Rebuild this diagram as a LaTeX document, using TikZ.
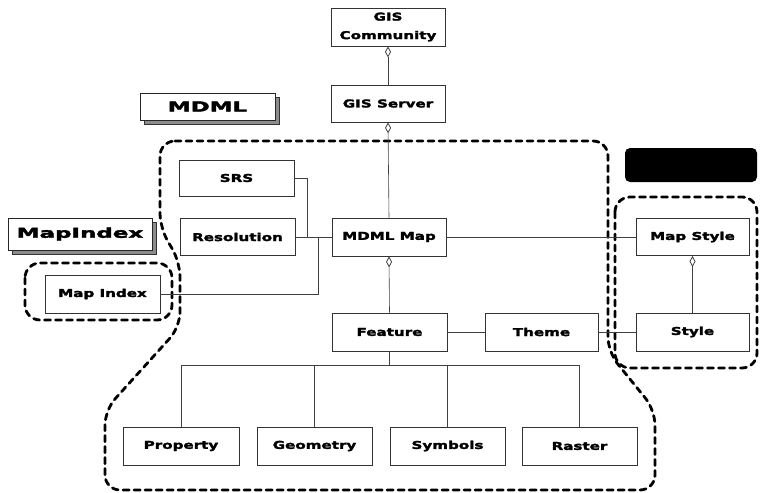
\documentclass[tikz,border=0pt]{standalone}
\usepackage{fontspec}
\usetikzlibrary{arrows.meta}
\newfontfamily\boxfont{DejaVu Sans}[FakeStretch=1.4, FakeBold=2.5]
\newfontfamily\lblfont{DejaVu Sans}[FakeStretch=1.7, FakeBold=3]
\begin{document}
\begin{tikzpicture}[x=1pt,y=-1pt,
  box/.style={draw=black!80, line width=0.8pt, fill=white, inner sep=0pt,
    minimum width=114pt, minimum height=37pt,
    font=\boxfont\fontsize{10.8}{18.5}\selectfont\bfseries, align=center},
  lbl/.style={draw=black!85, line width=0.8pt, fill=white, inner sep=0pt,
    font=\lblfont\fontsize{13.5}{15}\selectfont\bfseries},
  conn/.style={draw=black!75, line width=0.6pt},
  dia/.style={{Diamond[open,width=6pt,length=11pt,line width=0.8pt]}-},
  region/.style={draw=black, line width=2.8pt, dash pattern=on 6pt off 5pt, line cap=round}
]
\useasboundingbox (0,0) rectangle (761,493);

% dashed regions
\draw[region, rounded corners=15pt]
  (160,141) -- (608,141) -- (608,352) -- (655,410) -- (655,490) -- (105,490)
  -- (105,410) -- (180,327) -- (180,262) -- (160,228) -- cycle;
\draw[region, rounded corners=15pt] (25,263) rectangle (172,320);
\draw[region, rounded corners=15pt] (615,197) rectangle (757,368);

% 3D labels
\fill[black!45] (144,97) rectangle (279,124);
\draw[black!80, line width=0.6pt] (144,97) rectangle (279,124);
\node[lbl, minimum width=135pt, minimum height=27pt] (mdml) at (207.5,106.5) {MDML};
\fill[black!45] (12,222) rectangle (156,254);
\draw[black!80, line width=0.6pt] (12,222) rectangle (156,254);
\node[lbl, minimum width=144pt, minimum height=32pt] (mapidxlbl) at (80,234) {MapIndex};
\node[fill=black, rounded corners=5pt, minimum width=132pt, minimum height=34pt, inner sep=0pt] (blk) at (691,165) {};

% boxes
\node[box, minimum height=38pt] (comm) at (388,27) {GIS\\Community};
\node[box] (server) at (388,103.5) {GIS Server};
\node[box, minimum width=115pt, minimum height=36pt] (srs) at (236.5,178) {SRS};
\node[box, minimum width=115pt] (res) at (237.5,237) {Resolution};
\node[box, minimum height=38pt] (map) at (389,237) {MDML Map};
\node[box, minimum width=115pt, minimum height=38pt] (idx) at (102.5,294) {Map Index};
\node[box, minimum width=115pt, minimum height=38pt] (feat) at (389.5,332) {Feature};
\node[box, minimum width=113pt, minimum height=38pt] (theme) at (541.5,332) {Theme};
\node[box, minimum width=113pt] (mstyle) at (692.5,237) {Map Style};
\node[box, minimum width=113pt, minimum height=38pt] (style) at (692.5,332) {Style};
\node[box, minimum width=116pt, minimum height=38pt] (prop) at (181,446) {Property};
\node[box, minimum width=115pt, minimum height=38pt] (geom) at (314.5,446) {Geometry};
\node[box, minimum width=115pt, minimum height=38pt] (sym) at (447.5,446) {Symbols};
\node[box, minimum width=115pt, minimum height=38pt] (ras) at (579.5,446) {Raster};

% connectors
\coordinate (j1) at (307,237);
\coordinate (j2) at (318,237);
\coordinate (bus) at (389.5,365);
\draw[conn, dia] (comm.south) -- (server.north);
\draw[conn, dia] (server.south) -- (map.north);
\draw[conn, dia] (map.south) -- (feat.north);
\draw[conn, dia] (mstyle.south) -- (style.north);
\draw[conn] (res.east) -- (map.west);
\draw[conn] (srs.east) -| (j1);
\draw[conn] (idx.east) -| (j2);
\draw[conn] (map.east) -- (mstyle.west);
\draw[conn] (feat.east) -- (theme.west);
\draw[conn] (theme.east) -- (style.west);
\draw[conn] (feat.south) -- (bus);
\draw[conn] (bus) -| (prop.north);
\draw[conn] (bus) -| (geom.north);
\draw[conn] (bus) -| (sym.north);
\draw[conn] (bus) -| (ras.north);
\end{tikzpicture}
\end{document}
